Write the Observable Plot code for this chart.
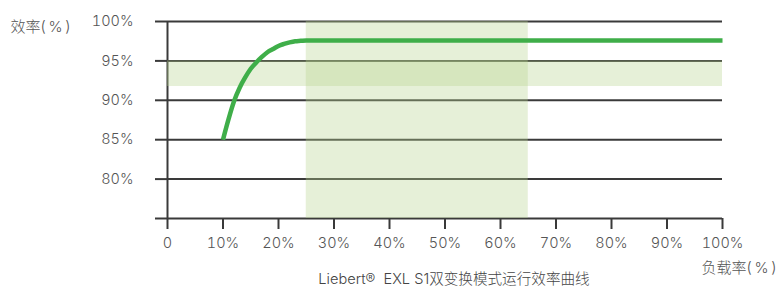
<!DOCTYPE html>
<html>
<head>
<meta charset="utf-8">
<script src="https://cdn.jsdelivr.net/npm/d3@7"></script>
<script src="https://cdn.jsdelivr.net/npm/@observablehq/plot@0.6"></script>
<style>
  html, body { margin: 0; padding: 0; background: #fff; }
  #chart svg { display: block; }
</style>
</head>
<body>
<div id="chart"></div>
<script>
// Data
const loadPct    = [10, 11, 12, 13, 14, 15, 16, 17, 18, 19, 20, 21, 22, 23, 24, 25, 100];
const efficiency = [85, 87.6, 89.9, 91.6, 92.9, 94.0, 94.8, 95.5, 96.1, 96.5, 96.9, 97.15, 97.35, 97.5, 97.55, 97.6, 97.6];
const xTicks = [0, 10, 20, 30, 40, 50, 60, 70, 80, 90, 100];
const yTicks = [75, 80, 85, 90, 95, 100];
const bandLoad = [25, 65];        // highlighted load range (%)
const bandEff  = [91.75, 95];     // highlighted efficiency range (%)
const yTitle = "效率(\u2009%\u2009)";
const xTitle = "负载率(\u2009%\u2009)";
const caption = "Liebert®  EXL S1双变换模式运行效率曲线";

const curve = loadPct.map((x, i) => ({x, y: efficiency[i]}));
const font = "Inter, 'Noto Sans CJK SC', sans-serif";
const gridColor = "#3a3a3a";
const bandFill = "rgb(184,212,144)";
const textColor = "#555";

const chart = Plot.plot({
  width: 776,
  height: 289,
  marginTop: 21,
  marginRight: 54,
  marginBottom: 71,
  marginLeft: 167,
  x: {domain: [0, 100]},
  y: {domain: [75, 100]},
  style: {fontFamily: font, fontSize: "14px", color: textColor, background: "#fff"},
  marks: [
    Plot.gridY(yTicks, {stroke: gridColor, strokeOpacity: 1, strokeWidth: 2}),
    Plot.ruleX([0], {stroke: gridColor, strokeWidth: 2}),
    Plot.axisY({ticks: yTicks, tickSize: 12, tickPadding: 22, stroke: gridColor, strokeWidth: 2,
      tickFormat: d => d === 75 ? "" : d + "%", fill: textColor, fontSize: 14.5, fontWeight: 300, label: null}),
    Plot.axisX({ticks: xTicks, tickSize: 11, tickPadding: 8, stroke: gridColor, strokeWidth: 2,
      tickFormat: d => d === 0 ? "0" : d + "%", fill: textColor, fontSize: 14.5, fontWeight: 300, label: null}),
    Plot.rectY([{y1: bandEff[0], y2: bandEff[1]}], {x1: 0, x2: 100, y1: "y1", y2: "y2", fill: bandFill, fillOpacity: 0.35}),
    Plot.rectX([{x1: bandLoad[0], x2: bandLoad[1]}], {x1: "x1", x2: "x2", y1: 75, y2: 100, fill: bandFill, fillOpacity: 0.35}),
    Plot.line(curve, {x: "x", y: "y", stroke: "#3fae49", strokeWidth: 4.5, curve: "monotone-x", strokeLinecap: "butt"}),
    Plot.text([yTitle], {frameAnchor: "top-left", dx: -157, dy: 0, textAnchor: "start", fill: textColor, fontSize: 15, fontWeight: 300}),
    Plot.text([xTitle], {frameAnchor: "bottom-right", dx: 54, dy: 54, textAnchor: "end", fill: textColor, fontSize: 15, fontWeight: 300}),
    Plot.text([caption], {frameAnchor: "bottom", dx: 9, dy: 65, fill: "#444", fontSize: 14.6, fontWeight: 300})
  ]
});
document.getElementById("chart").appendChild(chart);
</script>
</body>
</html>
